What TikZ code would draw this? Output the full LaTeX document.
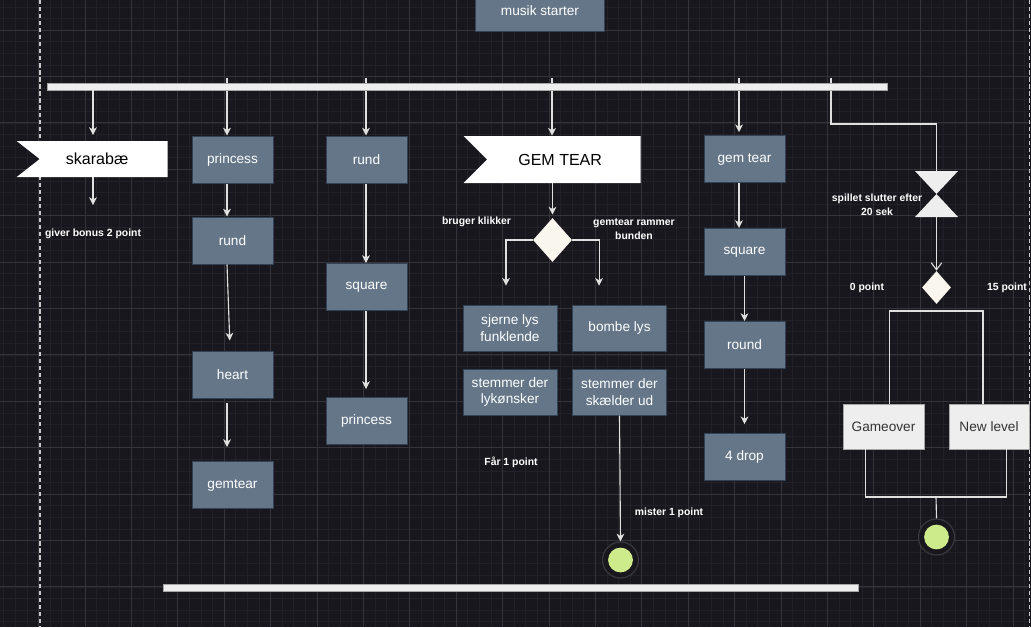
\documentclass[tikz,border=0pt]{standalone}
\usepackage{fontspec}
\setmainfont{Liberation Sans}
\usetikzlibrary{arrows.meta,shapes.geometric,shapes.symbols}
\definecolor{bgdark}{HTML}{18171D}
\definecolor{gridminor}{HTML}{222128}
\definecolor{gridmajor}{HTML}{35343B}
\definecolor{slatefill}{HTML}{647687}
\definecolor{slateline}{HTML}{314354}
\definecolor{flowgray}{HTML}{E0E0E0}
\definecolor{decisionfill}{HTML}{F9F7ED}
\definecolor{endgreen}{HTML}{CDEB8B}
\definecolor{ringgray}{HTML}{3A393F}
\definecolor{lightbox}{HTML}{EEEEEE}
\definecolor{darktext}{HTML}{333333}
\definecolor{guidegray}{HTML}{C8C8C8}

\begin{document}
\begin{tikzpicture}[x=0.025cm, y=-0.025cm,
  state/.style={rectangle, draw=slateline, fill=slatefill, line width=0.7pt, text=white,
    font=\fontsize{9.7}{11.6}\selectfont, align=center, inner sep=1pt,
    minimum width=2.025cm, minimum height=1.175cm},
  widestate/.style={state, minimum width=2.35cm, minimum height=1.15cm},
  endbox/.style={rectangle, draw=gray!70, fill=lightbox, line width=0.6pt, text=darktext,
    font=\fontsize{9.7}{11.6}\selectfont, inner sep=1pt,
    minimum width=2.025cm, minimum height=1.125cm},
  flag/.style={signal, signal from=west, signal to=nowhere, fill=white, text=black,
    font=\fontsize{11.4}{13}\selectfont, inner sep=0pt},
  decision/.style={diamond, fill=decisionfill, inner sep=0pt},
  forkbar/.style={rectangle, fill=lightbox, draw=gray!70, line width=0.4pt, inner sep=0pt,
    minimum height=0.175cm},
  endstate/.style={circle, minimum size=0.9cm, inner sep=0pt, fill=bgdark, draw=ringgray,
    line width=0.8pt,
    path picture={\fill[endgreen] (path picture bounding box.center) circle (0.31cm);}},
  hourglass/.style={rectangle, inner sep=0pt, minimum width=1.075cm, minimum height=1.15cm,
    path picture={\fill[lightbox] (path picture bounding box.north west)
      -- (path picture bounding box.north east) -- (path picture bounding box.south west)
      -- (path picture bounding box.south east) -- cycle;}},
  note/.style={text=white, font=\bfseries\fontsize{7.4}{9.9}\selectfont, align=center, inner sep=0pt},
  flow/.style={draw=flowgray, line width=0.8pt, -{Stealth[length=5.5pt,width=5.5pt,inset=1.6pt]}},
  openflow/.style={draw=flowgray, line width=0.8pt, -{Straight Barb[length=5pt,width=7.5pt]}},
  plain/.style={draw=flowgray, line width=0.8pt}]

  % canvas and grid
  \useasboundingbox (0,0) rectangle (1031,627);
  \clip (0,0) rectangle (1031,627);
  \fill[bgdark] (0,0) rectangle (1031,627);
  \foreach \gx in {3.7,15.3,...,1031} \draw[gridminor, line width=0.4pt] (\gx,0) -- (\gx,627);
  \foreach \gy in {6.8,18.4,...,627} \draw[gridminor, line width=0.4pt] (0,\gy) -- (1031,\gy);
  \foreach \gx in {38.5,84.9,...,1031} \draw[gridmajor, line width=0.5pt] (\gx,0) -- (\gx,627);
  \foreach \gy in {30,76.4,...,627} \draw[gridmajor, line width=0.5pt] (0,\gy) -- (1031,\gy);
  \draw[guidegray, dashed, dash pattern=on 3pt off 2pt, line width=0.9pt] (40,0) -- (40,627);
  \draw[guidegray, dashed, dash pattern=on 3pt off 2pt, line width=0.9pt] (1029.5,0) -- (1029.5,627);

  % start and fork
  \node[state, minimum width=3.2cm, minimum height=1cm] (musik) at (540,11) {musik starter};
  \coordinate (colA) at (227,78);
  \coordinate (colB) at (366,78);
  \coordinate (colD) at (552,78);
  \coordinate (colC) at (739,78);
  \coordinate (timerstart) at (831,78);
  \coordinate (timerbend) at (831,124);

  % column states
  \node[state] (princessA) at (232.5,159.5) {princess};
  \node[state] (rundA) at (232.5,240.5) {rund};
  \node[state] (heart) at (232.5,374.5) {heart};
  \node[state] (gemtearA) at (232.5,485) {gemtear};
  \node[state] (rundB) at (366.5,159.5) {rund};
  \node[state] (squareB) at (366.5,287) {square};
  \node[state] (princessB) at (366.5,421) {princess};
  \node[state] (gemtearC) at (744.5,159) {gem tear};
  \node[state] (squareC) at (744.5,252) {square};
  \node[state] (roundC) at (744.5,345) {round};
  \node[state] (dropC) at (744.5,457) {4 drop};

  % flags
  \node[flag, minimum width=3.775cm, minimum height=0.9cm, signal pointer angle=76, anchor=east]
    (skarabae) at (168,159) {skarabæ\hspace*{0.33cm}};
  \node[flag, minimum width=4.425cm, minimum height=1.175cm, signal pointer angle=90, anchor=east]
    (gemflag) at (641,159.5) {GEM TEAR\hspace*{0.19cm}};
  \coordinate (skarabaein) at (93,135);
  \coordinate (bonusout) at (93,205);
  \node[note] (bonus) at (93,234) {giver bonus 2 point};

  % gem tear decision
  \node[decision, minimum width=0.975cm, minimum height=1.1cm] (decision1) at (552.5,240) {};
  \node[note] (klik) at (476.5,222) {bruger klikker};
  \node[note] (bunden) at (634,229) {gemtear rammer\\bunden};
  \node[widestate] (sjerne) at (510,328) {sjerne lys\\funklende};
  \node[widestate] (bombe) at (619.5,328) {bombe lys};
  \node[widestate] (lykke) at (510,392) {stemmer der\\lykønsker};
  \node[widestate] (skaelder) at (619.5,392) {stemmer der\\skælder ud};
  \node[note] (faa) at (511,462) {Får 1 point};
  \node[note] (mister) at (669,513) {mister 1 point};
  \node[endstate] (end1) at (620.5,560) {};

  % timer branch
  \node[hourglass] (timer) at (936.5,194) {};
  \node[note] (timerlbl) at (877,205) {spillet slutter efter\\20 sek};
  \node[decision, minimum width=0.725cm, minimum height=0.825cm] (decision2) at (936.5,287.5) {};
  \node[note] (nul) at (867,287.5) {0 point};
  \node[note] (femten) at (1007,287.5) {15 point};
  \node[endbox] (gameover) at (883.5,426.5) {Gameover};
  \node[endbox, minimum width=2cm] (newlevel) at (989,426.5) {New level};
  \coordinate (splitmid) at (936,311);
  \coordinate (joinmid) at (936,497);
  \node[endstate] (end2) at (936.5,537) {};

  % connectors
  \draw[flow] (colA) -- (colA |- princessA.north);
  \draw[flow] (colB) -- (colB |- rundB.north);
  \draw[flow] (colD) -- (colD |- gemflag.north);
  \draw[flow, shorten >=0.07cm] (colC) -- (colC |- gemtearC.north);
  \draw[plain] (timerstart) -- (timerbend) -| (timer.north);
  \node[forkbar, minimum width=21cm] (topbar) at (467,86.5) {};
  \node[forkbar, minimum width=17.375cm] (botbar) at (510.5,587.5) {};
  \draw[flow] (topbar.south -| skarabaein) -- (skarabaein);
  \draw[flow] (skarabaein |- skarabae.south) -- (bonusout);

  \draw[flow] (colA |- princessA.south) -- (colA |- rundA.north);
  \draw[flow, shorten >=0.25cm] (colA |- rundA.south) -- ([xshift=-0.06cm]heart.north);
  \draw[flow, shorten <=0.12cm, shorten >=0.35cm] (colA |- heart.south) -- (colA |- gemtearA.north);
  \draw[flow] (colB |- rundB.south) -- (colB |- squareB.north);
  \draw[flow, shorten >=0.2cm] (colB |- squareB.south) -- (colB |- princessB.north);
  \draw[flow] (colC |- gemtearC.south) -- (colC |- squareC.north);
  \draw[flow] (squareC.south) -- (roundC.north);
  \draw[flow, shorten >=0.22cm] (roundC.south) -- (dropC.north);

  \draw[flow, shorten >=0.08cm] (decision1 |- gemflag.south) -- (decision1.north);
  \draw[flow, shorten >=0.47cm] (decision1.west) -| ([xshift=-0.1cm]sjerne.north);
  \draw[flow, shorten >=0.47cm] (decision1.east) -| ([xshift=-0.51cm]bombe.north);
  \draw[flow] (skaelder.south) -- (end1.north);

  \draw[openflow] (timer.south) -- (decision2.north);
  \draw[plain] ([xshift=0.14cm]gameover.north) |- (splitmid) -| ([xshift=-0.15cm]newlevel.north);
  \draw[plain] ([xshift=-0.44cm]gameover.south) |- (joinmid) -| ([xshift=0.43cm]newlevel.south);
  \draw[plain] (joinmid) -- (end2.north);
\end{tikzpicture}
\end{document}
